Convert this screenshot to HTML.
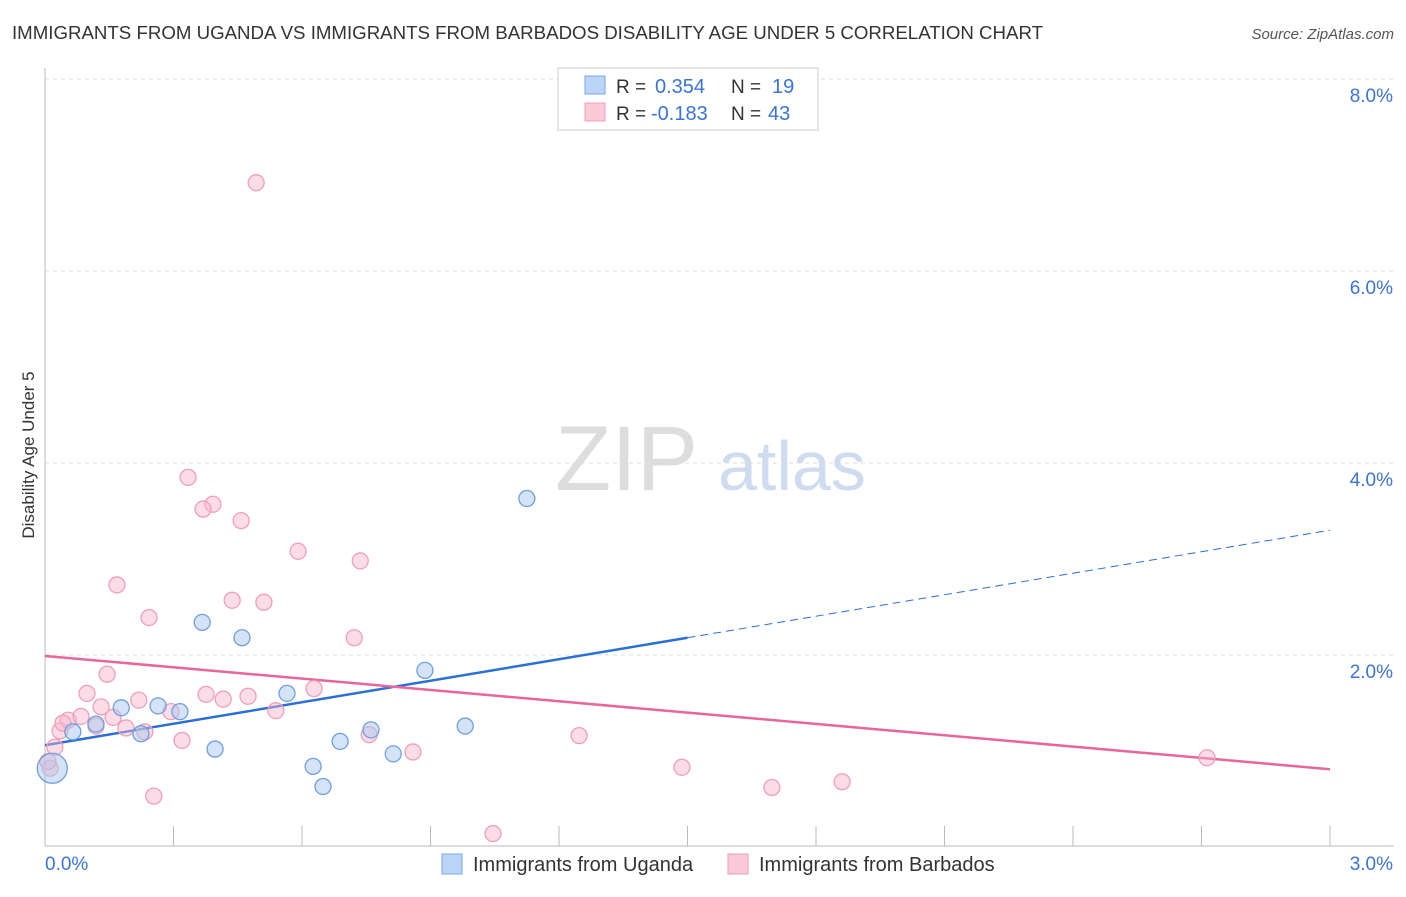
<!DOCTYPE html>
<html><head><meta charset="utf-8"><style>
body{margin:0;background:#fff;font-family:"Liberation Sans",sans-serif}
svg text{font-family:"Liberation Sans",sans-serif}
</style></head><body>
<svg id="chart" width="1406" height="892" xmlns="http://www.w3.org/2000/svg">
<text x="12" y="39" font-size="18" fill="#333" textLength="1031" lengthAdjust="spacingAndGlyphs">IMMIGRANTS FROM UGANDA VS IMMIGRANTS FROM BARBADOS DISABILITY AGE UNDER 5 CORRELATION CHART</text>
<text x="1394" y="39" font-size="15" fill="#555" text-anchor="end" font-style="italic">Source: ZipAtlas.com</text>
<text x="555" y="490" font-size="92" fill="#ddd" font-family="Liberation Serif">ZIP</text>
<text x="718" y="490" font-size="70" fill="#cfdcf0">atlas</text>
<text transform="translate(34,455) rotate(-90)" font-size="17" fill="#333" text-anchor="middle">Disability Age Under 5</text>
<g id="grid"></g><g id="trends"></g><g id="points"></g>
<g>
<rect x="558" y="68" width="260" height="62" fill="#fff" stroke="#ccc"/>
<rect x="585" y="76" width="20" height="18" fill="#bcd4f5" stroke="#7aa7e6"/>
<rect x="585" y="103" width="20" height="18" fill="#fbcad8" stroke="#ef9fb8"/>
<text x="616" y="93" font-size="19" fill="#333">R =</text>
<text x="655" y="93" font-size="20" fill="#3a74d8">0.354</text>
<text x="731" y="93" font-size="19" fill="#333">N =</text>
<text x="772" y="93" font-size="20" fill="#3a74d8">19</text>
<text x="616" y="120" font-size="19" fill="#333">R =</text>
<text x="651" y="120" font-size="20" fill="#3a74d8">-0.183</text>
<text x="731" y="120" font-size="19" fill="#333">N =</text>
<text x="768" y="120" font-size="20" fill="#3a74d8">43</text>
</g>
<g>
<rect x="442" y="854" width="20" height="20" fill="#bcd4f5" stroke="#7aa7e6"/>
<text x="473" y="871" font-size="20" fill="#333">Immigrants from Uganda</text>
<rect x="728" y="854" width="20" height="20" fill="#fbcad8" stroke="#ef9fb8"/>
<text x="759" y="871" font-size="20" fill="#333">Immigrants from Barbados</text>
</g>
</svg>
<script>
const yTicks=[2,4,6,8];
const yTickLabels=["2.0%","4.0%","6.0%","8.0%"];
const xTickLabels=["0.0%","3.0%"];
const ugandaX=[0.017,0.065,0.119,0.178,0.224,0.264,0.315,0.367,0.397,0.460,0.565,0.626,0.649,0.689,0.761,0.813,0.887,0.981,1.125];
const ugandaY=[0.82,1.20,1.28,1.45,1.18,1.47,1.41,2.34,1.02,2.18,1.60,0.84,0.63,1.10,1.22,0.97,1.84,1.26,3.63];
const barbX=[0.493,0.334,0.392,0.369,0.458,0.591,0.736,0.168,0.437,0.511,0.243,0.722,0.145,0.098,0.219,0.376,0.416,0.474,0.628,0.131,0.054,0.084,0.035,0.119,0.189,0.233,0.159,0.294,0.539,0.320,0.023,0.012,0.757,0.859,1.247,1.487,1.697,1.861,2.713,0.254,1.046,0.007,0.042];
const barbY=[6.92,3.85,3.57,3.52,3.40,3.08,2.98,2.73,2.57,2.55,2.39,2.18,1.80,1.60,1.53,1.59,1.54,1.57,1.65,1.46,1.32,1.36,1.21,1.26,1.24,1.20,1.35,1.41,1.42,1.11,1.04,0.82,1.17,0.99,1.16,0.83,0.62,0.68,0.93,0.53,0.14,0.89,1.29];
const big=[0];
const X=v=>45+v*428.33, Y=v=>847-v*96;
const NS="http://www.w3.org/2000/svg";
function mk(t,a,p){const e=document.createElementNS(NS,t);for(const k in a)e.setAttribute(k,a[k]);p.appendChild(e);return e;}
const grid=document.getElementById('grid');
yTicks.forEach((t,i)=>{
 const l=mk('line',{x1:45,x2:1394,y1:Y(t),y2:Y(t),stroke:'#ddd','stroke-dasharray':'4,4'},grid);
 
 
 const tx=mk('text',{x:1393,y:Y(t)+23,'font-size':19,fill:'#3a74d8','text-anchor':'end'},grid);
 tx.textContent=yTickLabels[i];
 
 
});
const ax=mk('line',{x1:45,x2:45,y1:68,y2:846,stroke:'#bbb'},grid);


const bx=mk('line',{x1:45,x2:1394,y1:846,y2:846,stroke:'#bbb'},grid);


for(let i=0;i<=10;i++){const t=mk('line',{x1:X(i*0.3),x2:X(i*0.3),y1:826,y2:846,stroke:'#bbb'},grid);
 
 }
xTickLabels.forEach((s,i)=>{const t=mk('text',{x:i?1393:45,y:870,'font-size':19,fill:'#3a74d8','text-anchor':i?'end':'start'},grid);t.textContent=s;
 
 });
const tr=document.getElementById('trends');
let l1=mk('line',{x1:X(0),y1:Y(1.06),x2:X(1.5),y2:Y(2.18),stroke:'#2a6fd6','stroke-width':2.5},tr);


let l2=mk('line',{x1:X(1.5),y1:Y(2.18),x2:X(3),y2:Y(3.3),stroke:'#2a6fd6','stroke-width':1,'stroke-dasharray':'8,5'},tr);


let l3=mk('line',{x1:X(0),y1:Y(1.99),x2:X(3),y2:Y(0.81),stroke:'#e8679a','stroke-width':2.5},tr);


const pts=document.getElementById('points');
barbX.forEach((x,i)=>{const c=mk('circle',{cx:X(x),cy:Y(barbY[i]),r:8,fill:'rgba(248,180,202,0.45)',stroke:'#ef9fb8','stroke-width':1.3},pts);
 
 });
ugandaX.forEach((x,i)=>{const c=mk('circle',{cx:X(x),cy:Y(ugandaY[i]),r:big.includes(i)?15:8,fill:'rgba(170,200,240,0.5)',stroke:'#6f9fe0','stroke-width':1.3},pts);
 
 });
</script>
</body></html>
